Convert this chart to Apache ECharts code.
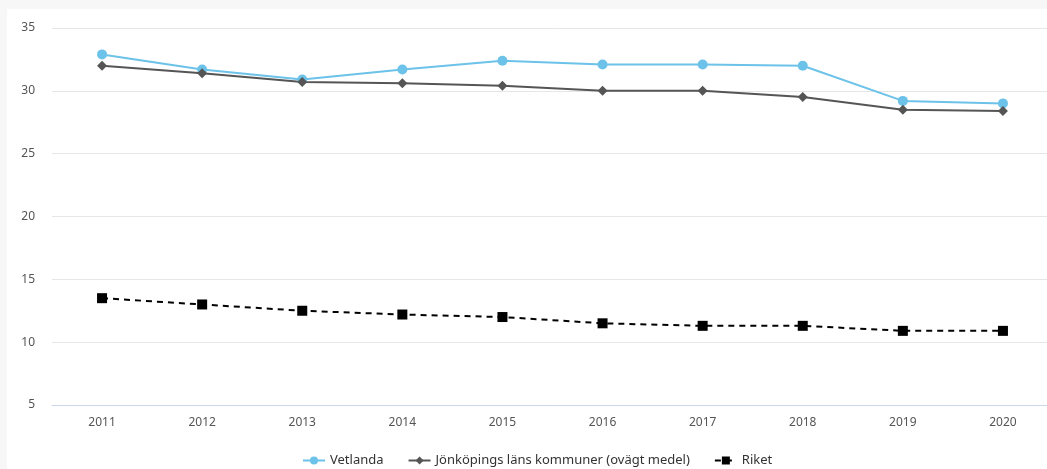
<!DOCTYPE html>
<html>
<head>
<meta charset="utf-8">
<script src="https://cdn.jsdelivr.net/npm/echarts@6/dist/echarts.min.js"></script>
<style>
html,body{margin:0;padding:0;background:#f7f7f7;width:1047px;height:469px;overflow:hidden;}
#wrap{position:absolute;left:7px;top:9px;width:1040px;height:460px;background:#fff;overflow:hidden;}
#chart{position:absolute;left:0;top:0;width:1060px;height:460px;}
</style>
</head>
<body>
<div id="wrap"><div id="chart"></div></div>
<script>
const years = ['2011','2012','2013','2014','2015','2016','2017','2018','2019','2020'];
const vetlanda = [32.9, 31.7, 30.9, 31.7, 32.4, 32.1, 32.1, 32.0, 29.2, 29.0];
const jonkoping = [32.0, 31.4, 30.7, 30.6, 30.4, 30.0, 30.0, 29.5, 28.5, 28.4];
const riket = [13.5, 13.0, 12.5, 12.2, 12.0, 11.5, 11.3, 11.3, 10.9, 10.9];
const yTicks = {min: 5, max: 35, interval: 5};

const chart = echarts.init(document.getElementById('chart'));
const font = 'Noto Sans';
chart.setOption({
  animation: false,
  grid: {left: 45, right: 14, top: 19, bottom: 64, containLabel: false},
  legend: {
    bottom: -3,
    left: 290,
    itemGap: 24,
    itemWidth: 22,
    itemHeight: 10,
    textStyle: {fontFamily: font, fontSize: 13, color: '#333'},
    data: ['Vetlanda', 'Jönköpings läns kommuner (ovägt medel)', 'Riket']
  },
  xAxis: {
    type: 'category',
    data: years,
    boundaryGap: true,
    axisLine: {show: true, lineStyle: {color: '#ccd6eb', width: 1}},
    axisTick: {show: false},
    axisLabel: {fontFamily: font, fontSize: 12, color: '#555', margin: 12},
    splitLine: {show: false}
  },
  yAxis: {
    type: 'value',
    min: yTicks.min, max: yTicks.max, interval: yTicks.interval,
    axisLine: {show: false},
    axisTick: {show: false},
    axisLabel: {fontFamily: font, fontSize: 12, color: '#555', margin: 17},
    splitLine: {lineStyle: {color: '#e6e6e6', width: 1}}
  },
  series: [
    {
      name: 'Vetlanda', type: 'line', data: vetlanda,
      symbol: 'circle', symbolSize: 10,
      lineStyle: {color: '#6cc2e8', width: 2},
      itemStyle: {color: '#6cc2e8'}
    },
    {
      name: 'Jönköpings läns kommuner (ovägt medel)', type: 'line', data: jonkoping,
      symbol: 'diamond', symbolSize: 10,
      lineStyle: {color: '#555555', width: 2},
      itemStyle: {color: '#555555'}
    },
    {
      name: 'Riket', type: 'line', data: riket,
      symbol: 'rect', symbolSize: 10,
      lineStyle: {color: '#000000', width: 2, type: [6, 5]},
      itemStyle: {color: '#000000'}
    }
  ]
});
</script>
</body>
</html>
